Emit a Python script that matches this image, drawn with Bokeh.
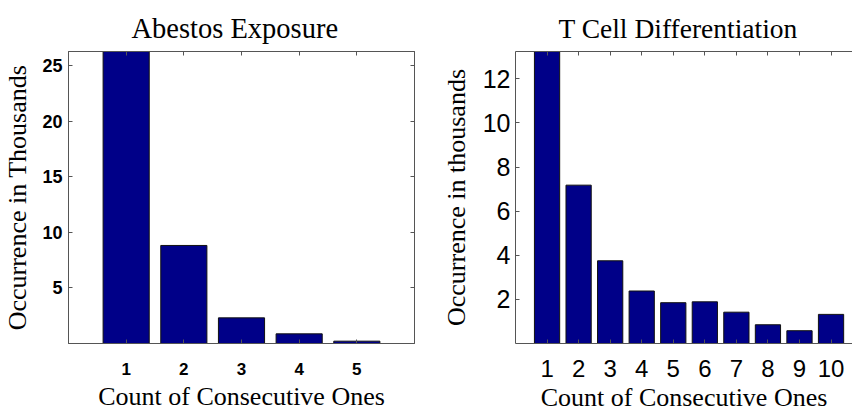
from bokeh.plotting import figure
from bokeh.layouts import row
from bokeh.models import LinearAxis, FixedTicker, Range1d, Title, ColumnDataSource
from bokeh.embed import file_html
from bokeh.resources import INLINE

# ---- data ----
asb_counts = [1, 2, 3, 4, 5]
asb_values = [26.3, 8.83, 2.31, 0.87, 0.21]
asb_xticks = [1, 2, 3, 4, 5]
asb_yticks = [5, 10, 15, 20, 25]

tcell_counts = [1, 2, 3, 4, 5, 6, 7, 8, 9, 10]
tcell_values = [13.24, 7.18, 3.75, 2.38, 1.85, 1.89, 1.42, 0.85, 0.58, 1.32]
tcell_xticks = [1, 2, 3, 4, 5, 6, 7, 8, 9, 10]
tcell_yticks = [2, 4, 6, 8, 10, 12]

SPINE = "#555555"
BAR = "#000088"


def base_axis(ticks):
    ax = LinearAxis(ticker=FixedTicker(ticks=ticks))
    ax.major_tick_in = 4
    ax.major_tick_out = 0
    ax.minor_tick_line_color = None
    ax.axis_line_color = SPINE
    ax.major_tick_line_color = SPINE
    return ax


def bare_axis(ticks):
    ax = base_axis(ticks)
    ax.major_label_text_color = None
    ax.major_label_text_font_size = "1px"
    ax.major_label_standoff = 0
    return ax


def make_panel(counts, values, xticks, yticks, xr, yr, title, ylabel,
               fw, fh, bl, br, bt, bb, xtick_size, ytick_size, bold,
               xstand, ystand, xlab_stand, ylab_stand,
               title_size, title_offset, title_stand, right_spine):
    p = figure(x_range=Range1d(*xr), y_range=Range1d(*yr),
               frame_width=fw, frame_height=fh,
               min_border_left=bl, min_border_right=br,
               min_border_top=bt, min_border_bottom=bb,
               x_axis_location=None, y_axis_location=None,
               output_backend="svg", toolbar_location=None)
    p.xgrid.visible = False
    p.ygrid.visible = False
    p.outline_line_color = SPINE if right_spine else None
    p.background_fill_color = "white"
    p.border_fill_color = "white"

    src = ColumnDataSource(dict(x=counts, top=values))
    p.vbar(x="x", top="top", width=0.8, source=src,
           fill_color=BAR, line_color="#111111", line_width=1)

    xa = base_axis(xticks)
    xa.axis_label = "Count of Consecutive Ones"
    xa.major_label_text_font = "Liberation Sans"
    xa.major_label_text_font_size = xtick_size
    xa.major_label_text_font_style = "bold" if bold else "normal"
    xa.major_label_text_color = "black"
    xa.major_label_standoff = xstand
    xa.axis_label_text_font = "Liberation Serif"
    xa.axis_label_text_font_size = "26px"
    xa.axis_label_text_font_style = "normal"
    xa.axis_label_text_color = "black"
    xa.axis_label_standoff = xlab_stand
    p.add_layout(xa, "below")

    ya = base_axis(yticks)
    ya.axis_label = ylabel
    ya.major_label_text_font = "Liberation Sans"
    ya.major_label_text_font_size = ytick_size
    ya.major_label_text_font_style = "bold" if bold else "normal"
    ya.major_label_text_color = "black"
    ya.major_label_standoff = ystand
    ya.axis_label_text_font = "Liberation Serif"
    ya.axis_label_text_font_size = "26px"
    ya.axis_label_text_font_style = "normal"
    ya.axis_label_text_color = "black"
    ya.axis_label_standoff = ylab_stand
    p.add_layout(ya, "left")

    p.add_layout(bare_axis(xticks), "above")
    if right_spine:
        p.add_layout(bare_axis(yticks), "right")

    t = Title(text=title, text_font="Liberation Serif", text_font_size=title_size,
              text_font_style="normal", text_color="black", align="left",
              standoff=title_stand, offset=title_offset)
    p.add_layout(t, "above")
    return p


p1 = make_panel(asb_counts, asb_values, asb_xticks, asb_yticks,
                (0, 6), (0, 26.3), "Abestos Exposure", "Occurrence in Thousands",
                346, 292, 62, 24, 51, 72, "17px", "18px", True,
                19, 6, 4, 7, "28.5px", 63, 15, True)

p2 = make_panel(tcell_counts, tcell_values, tcell_xticks, tcell_yticks,
                (0, 10.68), (0, 13.24), "T Cell Differentiation", "Occurrence in thousands",
                337, 292, 74, 0, 50, 73, "24px", "25px", False,
                16, 5, 3, 9, "27.5px", 43, 15, False)

layout = row(p1, p2)
open("out.html", "w").write(file_html(layout, INLINE))
